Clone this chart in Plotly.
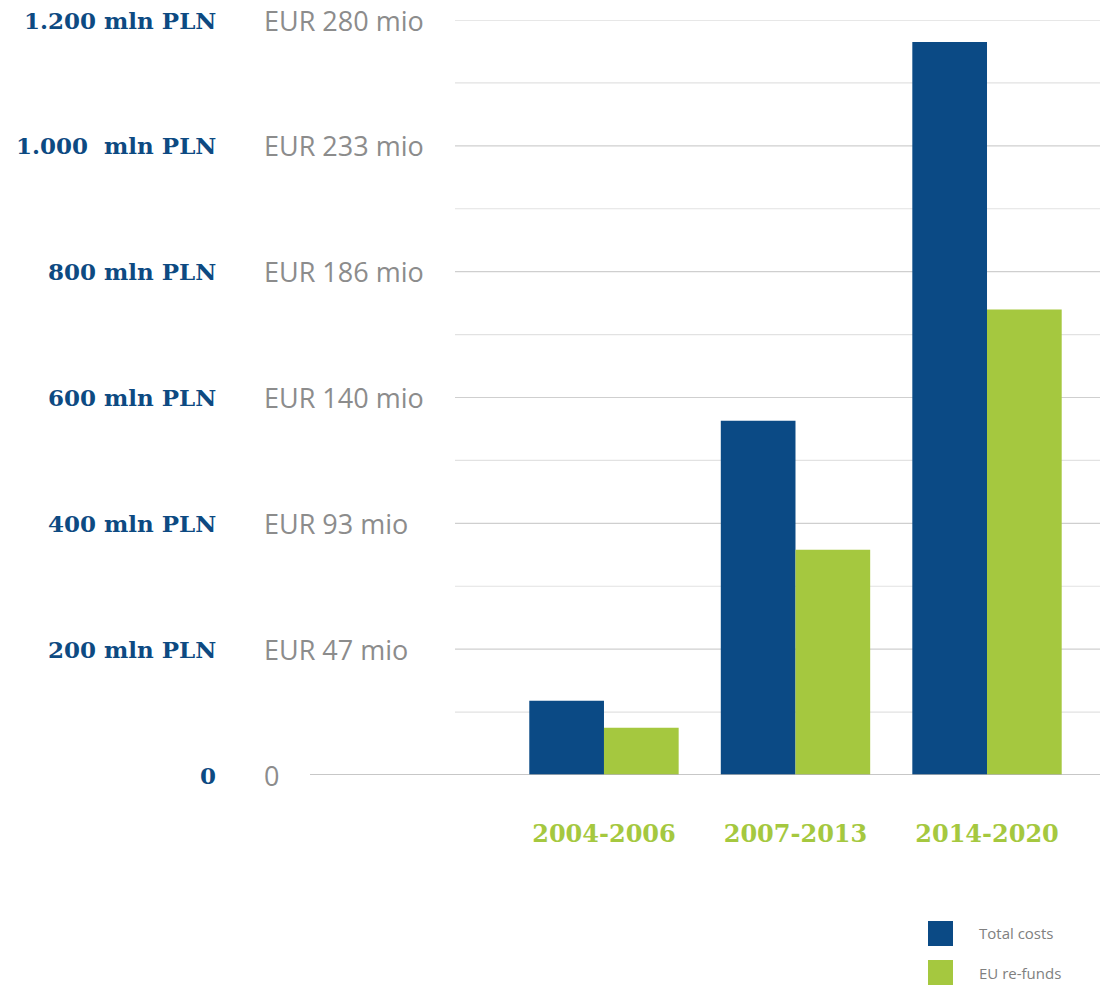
import plotly.graph_objects as go

# ---- data ----
periods = ["2004-2006", "2007-2013", "2014-2020"]
total_costs = [118, 563, 1165]      # mln PLN
eu_refunds = [75, 358, 740]         # mln PLN
series_names = ["Total costs", "EU re-funds"]

pln_ticks = [0, 200, 400, 600, 800, 1000, 1200]
pln_labels = ["0", "200 mln PLN", "400 mln PLN", "600 mln PLN", "800 mln PLN",
              "1.000\u00a0 mln PLN", "1.200 mln PLN"]
eur_labels = ["0", "EUR 47 mio", "EUR 93 mio", "EUR 140 mio", "EUR 186 mio",
              "EUR 233 mio", "EUR 280 mio"]
minor_ticks = [100, 300, 500, 700, 900, 1100]

BLUE = "#0b4a85"
GREEN = "#a5c83f"

W, H = 1100, 987
L, R, T, B = 310, 0, 20, 212
pw, ph = W - L - R, H - T - B

def px_x(p):
    return (p - L) / pw

def px_y(p):
    return (H - B - p) / ph

xs = list(range(len(periods)))

fig = go.Figure()
fig.add_trace(go.Bar(x=xs, y=total_costs, name=series_names[0],
                     marker=dict(color=BLUE, line=dict(width=0)), showlegend=False))
fig.add_trace(go.Bar(x=xs, y=eu_refunds, name=series_names[1],
                     marker=dict(color=GREEN, line=dict(width=0)), showlegend=False))

shapes = []
grid_x0 = px_x(455)
for v in minor_ticks:
    shapes.append(dict(type="line", xref="paper", yref="y", x0=grid_x0, x1=1, y0=v, y1=v,
                       line=dict(color="#e2e2e2", width=1.2), layer="below"))
for v in pln_ticks:
    if v == 0:
        shapes.append(dict(type="line", xref="paper", yref="y", x0=0, x1=1, y0=v, y1=v,
                           line=dict(color="#b5b5b5", width=1.5), layer="above"))
    else:
        shapes.append(dict(type="line", xref="paper", yref="y", x0=grid_x0, x1=1, y0=v, y1=v,
                           line=dict(color="#cfcfcf", width=1.2), layer="below"))

annotations = []
for v, pl, el in zip(pln_ticks, pln_labels, eur_labels):
    annotations.append(dict(xref="paper", yref="y", x=px_x(218), y=v, text=pl,
                            xanchor="right", yanchor="middle", showarrow=False,
                            font=dict(family="DejaVu Serif", size=23, color="#0d4a82", weight="bold")))
    annotations.append(dict(xref="paper", yref="y", x=px_x(262), y=v, text=el,
                            xanchor="left", yanchor="middle", showarrow=False,
                            font=dict(family="Open Sans", size=27, color="#8c8c8c")))

# manual legend
leg_items = [(series_names[0], BLUE, 921), (series_names[1], GREEN, 960)]
for name, col, top in leg_items:
    shapes.append(dict(type="rect", xref="paper", yref="paper",
                       x0=px_x(928), x1=px_x(953), y0=px_y(top), y1=px_y(top + 25),
                       fillcolor=col, line=dict(width=0)))
    annotations.append(dict(xref="paper", yref="paper", x=px_x(977), y=px_y(top + 12.5),
                            text=name, xanchor="left", yanchor="middle", showarrow=False,
                            font=dict(family="Open Sans", size=15, color="#808080")))

fig.update_layout(
    width=W, height=H,
    margin=dict(l=L, r=R, t=T, b=B),
    plot_bgcolor="white", paper_bgcolor="white",
    barmode="group", bargap=0.22, bargroupgap=0,
    showlegend=False,
    shapes=shapes, annotations=annotations,
    xaxis=dict(range=[-1.535, 2.59], tickmode="array", tickvals=xs, ticktext=periods,
               showgrid=False, zeroline=False, showline=False, ticks="",
               ticklabelstandoff=42,
               tickfont=dict(family="DejaVu Serif", size=24, color=GREEN, weight="bold")),
    yaxis=dict(range=[0, 1200], showgrid=False, zeroline=False, showline=False,
               showticklabels=False, ticks=""),
)

fig.write_html("out.html", config={"displayModeBar": False},
               post_script="document.body.style.margin='0';document.body.style.overflow='hidden';")
